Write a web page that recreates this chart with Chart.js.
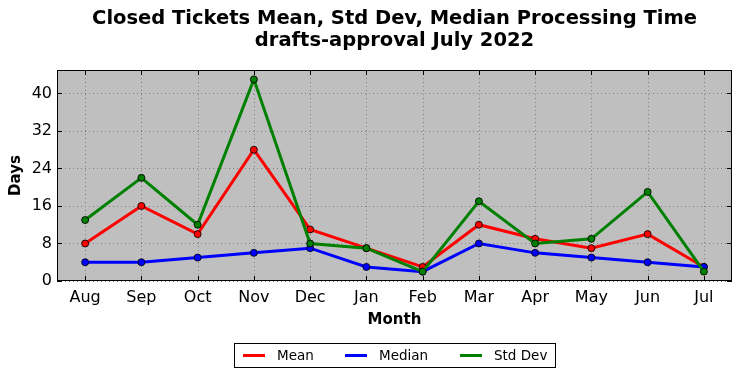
<!DOCTYPE html>
<html><head><meta charset="utf-8">
<script src="https://cdn.jsdelivr.net/npm/chart.js@4/dist/chart.umd.min.js"></script>
<style>html,body{margin:0;padding:0;background:#fff}#wrap{width:742px;height:378px;position:relative}</style>
</head><body><div id="wrap"><canvas id="c" width="742" height="378"></canvas></div>
<script>
const months = ['Aug','Sep','Oct','Nov','Dec','Jan','Feb','Mar','Apr','May','Jun','Jul'];
const meanDays = [8,16,10,28,11,7,3,12,9,7,10,3];
const medianDays = [4,4,5,6,7,3,2,8,6,5,4,3];
const stdDevDays = [13,22,12,43,8,7,2,17,8,9,19,2];
const yTicks = [0,8,16,24,32,40];
const titleLines = ['Closed Tickets Mean, Std Dev, Median Processing Time','drafts-approval July 2022'];
const xTitle = 'Month';
const yTitle = 'Days';
const seriesNames = ['Mean','Median','Std Dev'];
const seriesColors = ['#ff0000','#0000ff','#008000'];

const FONT = '"DejaVu Sans", sans-serif';

const decor = {
  id: 'decor',
  beforeDraw(chart) {
    const ctx = chart.ctx, a = chart.chartArea;
    ctx.save();
    ctx.fillStyle = '#fff';
    ctx.fillRect(0, 0, chart.width, chart.height);
    ctx.fillStyle = '#bfbfbf';
    ctx.fillRect(a.left, a.top, a.right - a.left, a.bottom - a.top);
    ctx.restore();
  },
  beforeDatasetsDraw(chart) {
    const ctx = chart.ctx, a = chart.chartArea;
    const xs = chart.scales.x, ys = chart.scales.y;
    ctx.save();
    ctx.strokeStyle = '#808080';
    ctx.lineWidth = 1;
    ctx.setLineDash([1, 3]);
    months.forEach((m, i) => {
      const x = Math.round(xs.getPixelForValue(i)) + 0.5;
      ctx.beginPath(); ctx.moveTo(x, a.top); ctx.lineTo(x, a.bottom); ctx.stroke();
    });
    yTicks.forEach(v => {
      const y = Math.round(ys.getPixelForValue(v)) + 0.5;
      ctx.beginPath(); ctx.moveTo(a.left, y); ctx.lineTo(a.right, y); ctx.stroke();
    });
    ctx.restore();
  },
  afterDraw(chart) {
    const ctx = chart.ctx, a = chart.chartArea;
    const xs = chart.scales.x, ys = chart.scales.y;
    ctx.save();
    // border
    ctx.strokeStyle = '#000';
    ctx.lineWidth = 1;
    ctx.setLineDash([]);
    ctx.strokeRect(Math.round(a.left) + 0.5, Math.round(a.top) + 0.5, Math.round(a.right - a.left) - 1, Math.round(a.bottom - a.top) - 1);
    // inward ticks
    const tl = 5;
    ctx.beginPath();
    months.forEach((m, i) => {
      const x = Math.round(xs.getPixelForValue(i)) + 0.5;
      ctx.moveTo(x, a.bottom); ctx.lineTo(x, a.bottom - tl);
      ctx.moveTo(x, a.top); ctx.lineTo(x, a.top + tl);
    });
    yTicks.forEach(v => {
      const y = Math.round(ys.getPixelForValue(v)) + 0.5;
      ctx.moveTo(a.left, y); ctx.lineTo(a.left + tl, y);
      ctx.moveTo(a.right, y); ctx.lineTo(a.right - tl, y);
    });
    ctx.stroke();
    // title
    const cx = (a.left + a.right) / 2;
    ctx.fillStyle = '#000';
    ctx.textAlign = 'center';
    ctx.textBaseline = 'middle';
    ctx.font = 'bold 19.5px ' + FONT;
    ctx.fillText(titleLines[0], cx, 19);
    ctx.fillText(titleLines[1], cx, 41);
    // axis titles
    ctx.font = 'bold 15px ' + FONT;
    ctx.fillText(xTitle, cx, 320);
    ctx.save();
    ctx.translate(16, (a.top + a.bottom) / 2);
    ctx.rotate(-Math.PI / 2);
    ctx.fillText(yTitle, 0, 0);
    ctx.restore();
    // legend
    ctx.fillStyle = '#fff';
    ctx.fillRect(234, 343, 321, 25);
    ctx.strokeStyle = '#000';
    ctx.strokeRect(234.5, 343.5, 321, 24);
    const lx = [243, 345, 460];
    ctx.font = '13.5px ' + FONT;
    ctx.textAlign = 'left';
    chart.data.datasets.forEach((ds, i) => {
      ctx.strokeStyle = ds.borderColor;
      ctx.lineWidth = 3;
      ctx.beginPath(); ctx.moveTo(lx[i], 355.5); ctx.lineTo(lx[i] + 22, 355.5); ctx.stroke();
      ctx.fillStyle = '#000';
      ctx.fillText(ds.label, lx[i] + 34, 356);
    });
    ctx.restore();
  }
};

const mk = (i, data, order) => ({
  label: seriesNames[i],
  data: data,
  borderColor: seriesColors[i],
  backgroundColor: seriesColors[i],
  pointBackgroundColor: seriesColors[i],
  pointBorderColor: 'rgba(0,0,0,0.85)',
  pointBorderWidth: 1,
  pointRadius: 3.5,
  borderWidth: 3,
  tension: 0,
  order: order,
  clip: false
});

new Chart(document.getElementById('c'), {
  type: 'line',
  data: {
    labels: months,
    datasets: [mk(0, meanDays, 2), mk(1, medianDays, 1), mk(2, stdDevDays, 0)]
  },
  options: {
    responsive: false,
    devicePixelRatio: 1,
    animation: false,
    layout: { padding: { top: 70, right: 10, bottom: 0, left: 0 } },
    plugins: { legend: { display: false }, title: { display: false }, tooltip: { enabled: false } },
    scales: {
      x: {
        type: 'category',
        offset: true,
        grid: { display: false, drawTicks: false },
        border: { display: false },
        ticks: { color: '#000', font: { family: FONT, size: 16 }, padding: 7, maxRotation: 0, autoSkip: false },
        afterFit(s) { s.height = 97; }
      },
      y: {
        min: 0, max: 45,
        grid: { display: false, drawTicks: false },
        border: { display: false },
        ticks: { color: '#000', font: { family: FONT, size: 16 }, padding: 5 },
        afterBuildTicks(s) { s.ticks = yTicks.map(v => ({ value: v })); },
        afterFit(s) { s.width = 57; }
      }
    }
  },
  plugins: [decor]
});
</script></body></html>
